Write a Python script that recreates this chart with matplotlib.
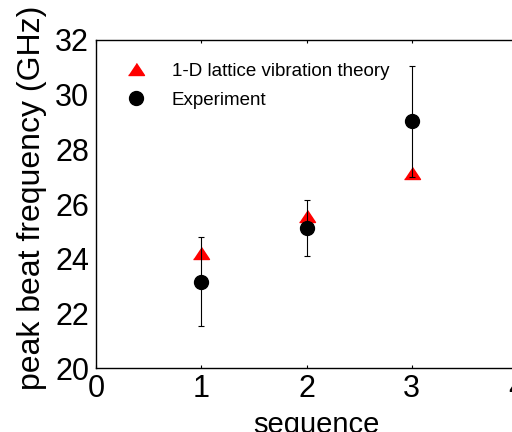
import numpy as np
import matplotlib
matplotlib.use('Agg')
import matplotlib.pyplot as plt

plt.rcParams['font.family'] = ['Liberation Sans', 'DejaVu Sans']

# data
sequence = [1, 2, 3]
theory = [24.2, 25.55, 27.15]
experiment = [23.17, 25.12, 29.03]
exp_err = [1.63, 1.03, 2.03]

fig = plt.figure(figsize=(5.12, 4.32), dpi=100)
ax = fig.add_axes([0.1875, 0.1475, 0.8223, 0.7600])

tri = [(-1, -0.75), (1, -0.75), (0, 0.75)]
ax.plot(sequence, theory, linestyle='none', marker=tri, markersize=11.5,
        color='red', markeredgecolor='red', label='1-D lattice vibration theory', zorder=2)
ax.errorbar(sequence, experiment, yerr=exp_err, fmt='none',
            ecolor='black', elinewidth=0.8, capsize=2.5, capthick=0.8, zorder=3)
ax.plot(sequence, experiment, linestyle='none', marker='o', color='black',
        markersize=10, label='Experiment', zorder=4)

ax.set_xlim(0, 4)
ax.set_ylim(20, 32)
ax.set_xticks([0, 1, 2, 3, 4])
ax.set_yticks([20, 22, 24, 26, 28, 30, 32])
ax.tick_params(axis='x', direction='in', length=2.5, width=0.8, top=True,
               labelsize=22, pad=4)
ax.tick_params(axis='y', direction='in', length=0, labelsize=22, pad=5)
for s in ax.spines.values():
    s.set_linewidth(1.0)

ax.set_ylabel('peak beat frequency (GHz)', fontsize=23)
ax.yaxis.set_label_coords(-0.117, 0.518)
ax.set_xlabel('sequence', fontsize=21)
ax.xaxis.set_label_coords(0.523, -0.13)

ax.legend(loc='upper left', bbox_to_anchor=(0.02, 0.97), frameon=False,
          fontsize=13.5, handletextpad=0.9, labelspacing=0.62, numpoints=1,
          borderaxespad=0.3)

fig.savefig('out.png', dpi=100)
